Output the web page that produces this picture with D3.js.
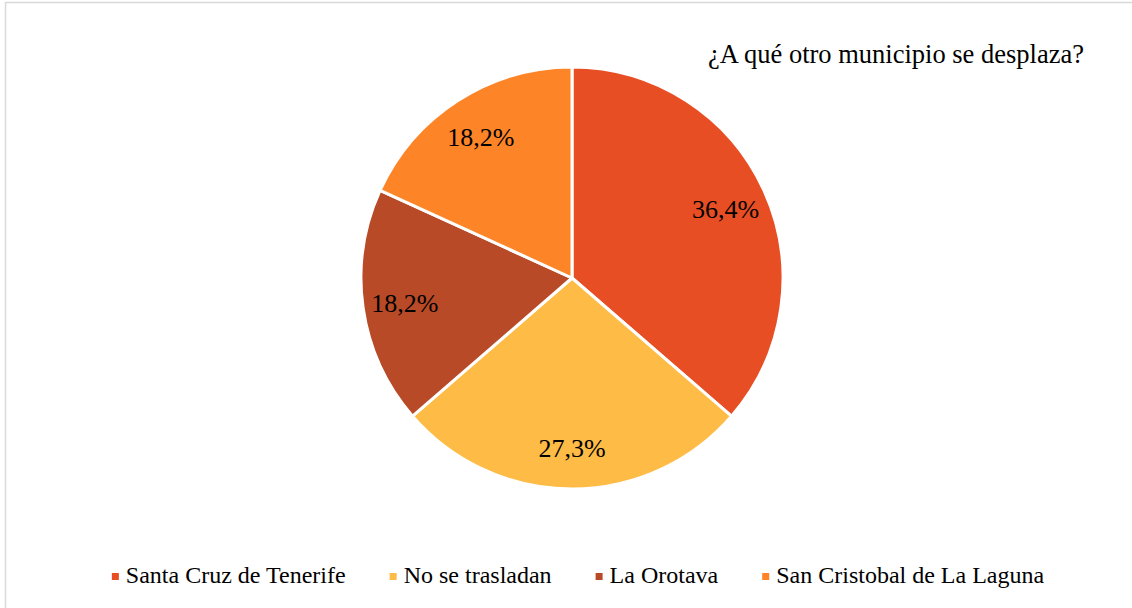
<!DOCTYPE html>
<html>
<head>
<meta charset="utf-8">
<script src="https://cdn.jsdelivr.net/npm/d3@7"></script>
<style>
  body { margin: 0; background: #fff; }
</style>
</head>
<body>
<svg id="chart"></svg>
<script>
// data
var categories = ["Santa Cruz de Tenerife", "No se trasladan", "La Orotava", "San Cristobal de La Laguna"];
var values = [36.4, 27.3, 18.2, 18.2];
var labels = ["36,4%", "27,3%", "18,2%", "18,2%"];
var colors = ["#E84E24", "#FEBB46", "#B84A27", "#FD8528"];
var title = "¿A qué otro municipio se desplaza?";

var width = 1132,
    height = 608;
var font = "'Liberation Serif', Tinos, 'Times New Roman', Times, serif";

var svg = d3.select("#chart")
  .attr("width", width)
  .attr("height", height)
  .style("font-family", font);

// chart area border (only top/left visible in the window)
svg.append("rect")
  .attr("x", 5.5)
  .attr("y", 2.5)
  .attr("width", 1200)
  .attr("height", 800)
  .attr("fill", "none")
  .attr("stroke", "#d9d9d9")
  .attr("stroke-width", 1.5);

svg.append("text")
  .attr("x", 1084)
  .attr("y", 63)
  .attr("text-anchor", "end")
  .style("font-family", font)
  .style("font-size", "26.5px")
  .text(title);

// pie
var cx = 572, cy = 278, r = 211;

var pie = d3.pie().sort(null).value(function(d) { return d; });
var arc = d3.arc().innerRadius(0).outerRadius(r);
var labelArc = d3.arc().innerRadius(r * 0.8).outerRadius(r * 0.8);

var g = svg.append("g")
  .attr("transform", "translate(" + cx + "," + cy + ")");

var slices = pie(values);

g.selectAll("path")
  .data(slices)
  .enter()
  .append("path")
  .attr("d", arc)
  .attr("fill", function(d, i) { return colors[i]; })
  .attr("stroke", "#fff")
  .attr("stroke-width", 3)
  .attr("stroke-linejoin", "round");

g.selectAll("text.lbl")
  .data(slices)
  .enter()
  .append("text")
  .attr("class", "lbl")
  .attr("transform", function(d) { return "translate(" + labelArc.centroid(d) + ")"; })
  .attr("text-anchor", "middle")
  .attr("dy", "0.38em")
  .style("font-family", font)
  .style("font-size", "26px")
  .text(function(d, i) { return labels[i]; });

// legend, centred under the chart
var legend = svg.append("g");
var lx = 0;
var items = legend.selectAll("g")
  .data(categories)
  .enter()
  .append("g");

items.append("rect")
  .attr("width", 7)
  .attr("height", 7)
  .attr("y", -10)
  .attr("fill", function(d, i) { return colors[i]; });

items.append("text")
  .attr("x", 14)
  .style("font-family", font)
  .style("font-size", "24px")
  .text(function(d) { return d; });

items.each(function() {
  var item = d3.select(this);
  item.attr("transform", "translate(" + lx + ",0)");
  var w = item.select("text").node().getComputedTextLength();
  lx += 14 + w + 44;
});
var legendW = lx - 44;
legend.attr("transform", "translate(" + (578 - legendW / 2) + ",583)");
</script>
</body>
</html>
